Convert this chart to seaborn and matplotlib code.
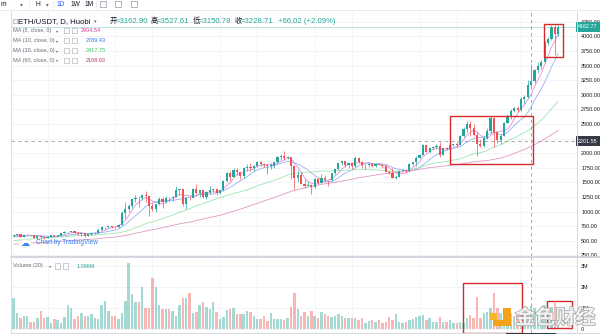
import numpy as np
import pandas as pd
import matplotlib
matplotlib.use("Agg")
import matplotlib.pyplot as plt
import matplotlib.patheffects as pe
from matplotlib.patches import Rectangle, Circle
from matplotlib.lines import Line2D
import seaborn as sns

# ---------------- data: ETH/USDT daily candles ----------------
opens = [587, 598, 616, 570, 596, 601, 592, 555, 573, 560,
         545, 568, 590, 586, 589, 636, 642, 654, 658, 638,
         609, 634, 584, 611, 626, 635, 683, 731, 735, 751,
         737, 730, 775, 979, 1041, 1100, 1208, 1225, 1224, 1281,
         1262, 1090, 1043, 1130, 1218, 1171, 1233, 1230, 1257, 1377,
         1382, 1121, 1236, 1230, 1391, 1324, 1362, 1245, 1331, 1377,
         1382, 1314, 1369, 1515, 1660, 1594, 1719, 1677, 1614, 1746,
         1768, 1744, 1783, 1843, 1814, 1805, 1779, 1781, 1848, 1937,
         1960, 1919, 1935, 1781, 1570, 1626, 1475, 1446, 1459, 1416,
         1564, 1492, 1575, 1541, 1533, 1654, 1723, 1834, 1868, 1799,
         1826, 1772, 1924, 1854, 1791, 1806, 1823, 1782, 1819, 1806,
         1782, 1681, 1669, 1583, 1588, 1702, 1716, 1691, 1819, 1846,
         1919, 1977, 2143, 2028, 2093, 2107, 2118, 1971, 2088, 2072,
         2136, 2158, 2139, 2290, 2420, 2500, 2430, 2320, 2150, 2130,
         2260, 2380, 2600, 2360, 2220, 2300, 2520, 2640, 2720, 2780,
         2740, 2930, 2960, 3162.90, 3228.71, 3420, 3500, 3560, 3890, 3960,
         4170, 4040]
highs = [600, 622, 619, 598, 604, 606, 594, 577, 574, 561,
         573, 597, 592, 594, 640, 675, 657, 665, 668, 646,
         637, 637, 614, 627, 642, 717, 745, 738, 754, 754,
         749, 786, 1011, 1158, 1132, 1210, 1279, 1260, 1300, 1348,
         1264, 1150, 1135, 1245, 1245, 1260, 1255, 1260, 1440, 1390,
         1392, 1250, 1270, 1400, 1465, 1370, 1370, 1345, 1430, 1390,
         1385, 1375, 1540, 1670, 1690, 1740, 1750, 1680, 1765, 1815,
         1830, 1790, 1870, 1870, 1830, 1810, 1830, 1860, 1950, 1980,
         2042, 1960, 1940, 1790, 1710, 1675, 1560, 1530, 1470, 1570,
         1600, 1650, 1620, 1545, 1665, 1735, 1840, 1870, 1870, 1840,
         1845, 1945, 1930, 1870, 1820, 1830, 1840, 1830, 1830, 1815,
         1810, 1720, 1740, 1630, 1710, 1730, 1730, 1840, 1850, 1945,
         1990, 2150, 2145, 2100, 2120, 2150, 2200, 2095, 2100, 2190,
         2165, 2200, 2310, 2450, 2545, 2550, 2500, 2360, 2250, 2300,
         2440, 2645, 2620, 2380, 2330, 2540, 2670, 2760, 2800, 2810,
         2960, 2990, 3250, 3527.61, 3450, 3560, 3600, 3920, 3990, 4190,
         4200, 4190]
lows = [570, 585, 565, 562, 585, 585, 550, 531, 553, 536,
        543, 567, 578, 580, 585, 628, 630, 645, 630, 600,
        588, 567, 575, 604, 615, 630, 680, 693, 718, 715,
        714, 715, 768, 897, 995, 1067, 1166, 1070, 1200, 1168,
        926, 1010, 1000, 1110, 1060, 1150, 1170, 1180, 1245, 1275,
        1090, 1050, 1200, 1228, 1300, 1250, 1225, 1215, 1300, 1340,
        1280, 1295, 1350, 1500, 1530, 1590, 1625, 1550, 1570, 1700,
        1700, 1700, 1765, 1780, 1770, 1650, 1730, 1750, 1840, 1890,
        1880, 1900, 1560, 1370, 1510, 1470, 1400, 1430, 1295, 1410,
        1475, 1485, 1500, 1440, 1525, 1645, 1705, 1795, 1760, 1750,
        1730, 1755, 1840, 1740, 1730, 1760, 1760, 1760, 1790, 1740,
        1675, 1650, 1570, 1550, 1585, 1690, 1680, 1685, 1795, 1775,
        1910, 1970, 2020, 2000, 2050, 2080, 1940, 1965, 2055, 2060,
        2115, 2110, 2135, 2280, 2370, 2300, 2300, 1950, 2100, 2100,
        2240, 2350, 2110, 2180, 2160, 2290, 2510, 2580, 2700, 2700,
        2730, 2850, 2940, 3150.78, 3200, 3380, 3440, 3540, 3860, 3940,
        3690, 4010]
closes = [598, 616, 570, 596, 601, 592, 555, 573, 560, 545,
          568, 590, 586, 589, 636, 642, 654, 658, 638, 609,
          634, 584, 611, 626, 635, 683, 731, 735, 751, 737,
          730, 775, 979, 1041, 1100, 1208, 1225, 1224, 1281, 1262,
          1090, 1043, 1130, 1218, 1171, 1233, 1230, 1257, 1377, 1382,
          1121, 1236, 1230, 1391, 1324, 1362, 1245, 1331, 1377, 1382,
          1314, 1369, 1515, 1660, 1594, 1719, 1677, 1614, 1746, 1768,
          1744, 1783, 1843, 1814, 1805, 1779, 1781, 1848, 1937, 1960,
          1919, 1935, 1781, 1570, 1626, 1475, 1446, 1459, 1416, 1564,
          1492, 1575, 1541, 1533, 1654, 1723, 1834, 1868, 1799, 1826,
          1772, 1924, 1854, 1791, 1806, 1823, 1782, 1819, 1806, 1782,
          1681, 1669, 1583, 1588, 1702, 1716, 1691, 1819, 1846, 1919,
          1977, 2143, 2028, 2093, 2107, 2118, 1971, 2088, 2072, 2136,
          2158, 2139, 2290, 2420, 2500, 2430, 2320, 2150, 2130, 2260,
          2380, 2600, 2360, 2220, 2300, 2520, 2640, 2720, 2780, 2740,
          2930, 2960, 3162.69, 3228.71, 3420, 3500, 3560, 3890, 3960, 4170,
          4040, 4162.77]
# daily volume, millions
volumes_m = [1.49, 0.78, 0.54, 0.62, 0.62, 0.35, 0.35, 0.54, 0.86, 0.54,
             0.57, 0.30, 0.48, 0.41, 0.30, 0.59, 1.14, 0.98, 0.46, 0.62,
             0.78, 0.62, 0.62, 0.70, 0.54, 0.46, 1.14, 1.33, 0.86, 0.62,
             0.62, 0.48, 0.75, 1.33, 3.16, 1.67, 1.30, 1.30, 2.00, 0.98,
             0.98, 2.43, 2.00, 1.14, 0.95, 0.95, 0.95, 0.87, 0.62, 1.14,
             1.49, 1.49,
             1.70, 0.75, 0.79, 1.14, 1.27, 1.06, 0.95, 1.27, 0.79, 0.48,
             0.59, 0.90, 0.95, 0.98, 0.70, 0.70, 0.70, 0.86, 0.79, 0.63,
             0.46, 0.48, 0.63, 0.40, 0.75, 0.48, 0.48, 0.48, 0.43, 0.54,
             1.03, 1.73,
             0.95, 0.62, 0.83, 0.62, 0.87, 0.62, 0.54, 0.79, 0.70, 0.63,
             0.59, 0.63, 0.70, 0.63, 0.54, 0.52, 0.52, 0.52, 0.43, 0.52,
             0.30, 0.40,
             0.43, 0.35, 0.43, 0.30, 0.35, 0.59, 0.43, 0.71, 0.35, 0.30,
             0.35, 0.43, 0.48, 0.56, 0.62, 0.67, 0.43, 0.51, 0.35, 0.35,
             0.56, 0.35, 0.35, 0.43, 0.30, 0.30, 0.35, 0.30, 0.51, 0.67,
             0.54, 1.54, 0.51, 0.75, 0.83, 0.98, 1.73, 0.98, 0.75, 0.70,
             0.70, 0.75, 0.60, 0.75, 0.75, 0.83, 0.90, 1.096,
             0.98, 0.88, 0.80, 1.12, 0.95, 1.05, 1.25, 0.62]
# closes of the days before the first candle, only used to seed the moving averages
earlier_closes = [352, 353, 341, 341, 350, 365, 370, 375, 387, 381,
                  379, 377, 366, 368, 377, 379, 369, 392, 413, 409,
                  412, 406, 393, 404, 388, 386, 382, 386, 396, 383,
                  388, 402, 415, 454, 435, 453, 444, 450, 463, 462,
                  475, 461, 448, 460, 482, 479, 471, 509, 549, 559,
                  608, 603, 568, 518, 517, 538, 575, 614, 587]

price_ticks = [250, 500, 750, 1000, 1250, 1500, 1750, 2000, 2250, 2500,
               2750, 3000, 3250, 3500, 3750, 4000, 4250]
volume_ticks = [0, 1, 2, 3]
volume_tick_labels = ["0", "1M", "2M", "3M"]
ma_periods = [5, 10, 30, 60]
ma_labels = ["MA (5, close, 0)", "MA (10, close, 0)", "MA (30, close, 0)", "MA (60, close, 0)"]
ma_values = ["2904.54", "2789.43", "2417.75", "2108.93"]
cross_index = 153
cross_price = 2201.55
last_price = 4162.77
ohlc_names = ["开", "高", "低", "收"]
ohlc_values = ["=3162.90", "=3527.61", "=3150.78", "=3228.71"]
change_text = "+66.02 (+2.09%)"
volume_value = "1.096M"
timeframes = ["1D", "1W", "1M"]

# ---------------- style ----------------
UP, DOWN = "#26a69a", "#ef5350"
MA_COLORS = ["#e0389c", "#2f6ff0", "#3cc462", "#c2306e"]
MA_LINE_COLORS = ["#e27ad2", "#7fa6f2", "#8fe0a2", "#d987b9"]
TEXT = "#131722"
MUTED = "#6a6d78"
BORDER = "#d6d9e0"
GRID = "#f1f3f7"

W, H = 600, 334
sns.set_theme(style="white")
plt.rcParams["font.family"] = ["Liberation Sans", "DejaVu Sans", "Noto Sans CJK SC"]
plt.rcParams["axes.unicode_minus"] = False

fig = plt.figure(figsize=(W / 100, H / 100), dpi=100)
fig.patch.set_facecolor("white")


def fx(px):
    return px / W


def fy(py):
    return 1 - py / H


def hline(x0, x1, y, color=BORDER, lw=0.6, **kw):
    fig.add_artist(Line2D([fx(x0), fx(x1)], [fy(y), fy(y)], color=color, lw=lw, **kw))


def vline(x, y0, y1, color=BORDER, lw=0.6, **kw):
    fig.add_artist(Line2D([fx(x), fx(x)], [fy(y0), fy(y1)], color=color, lw=lw, **kw))


def box(x, y, w, h, ec="#a3a6af", fc="white", lw=0.4, z=5):
    fig.add_artist(Rectangle((fx(x), fy(y + h)), w / W, h / H, transform=fig.transFigure,
                             fc=fc, ec=ec, lw=lw, zorder=z))


# pane geometry (pixels)
PANE_L, PANE_R = 10.5, 577.0
MAIN_T, MAIN_B = 10.5, 256.0
VOL_T, VOL_B = 258.0, 332.5
X0, SLOT = 13.7, 3.382          # first candle centre, candle spacing
PY0, PSCALE = 255.3, 0.05835    # pixel row of 250.00, pixels per price unit
VZERO, VSCALE = 329.0, 21.0     # pixel row of zero volume, pixels per million

ax = fig.add_axes([fx(PANE_L), fy(MAIN_B), (PANE_R - PANE_L) / W, (MAIN_B - MAIN_T) / H])
axv = fig.add_axes([fx(PANE_L), fy(VOL_B), (PANE_R - PANE_L) / W, (VOL_B - VOL_T) / H])

xlim = ((PANE_L - X0) / SLOT, (PANE_R - X0) / SLOT)
ax.set_xlim(*xlim)
axv.set_xlim(*xlim)
ax.set_ylim(250 + (PY0 - MAIN_B) / PSCALE, 250 + (PY0 - MAIN_T) / PSCALE)
axv.set_ylim((VZERO - VOL_B) / VSCALE, (VZERO - VOL_T) / VSCALE)

idx = np.arange(len(closes))
o = np.array(opens, float)
h = np.array(highs, float)
l = np.array(lows, float)
c = np.array(closes, float)
up = c >= o
colors = np.where(up, UP, DOWN)

# grid
grid_idx = [10, 30, 41, 61, 72, 89, 100, 120, 131, 150]
for a in (ax, axv):
    for s in a.spines.values():
        s.set_visible(False)
    a.set_xticks(grid_idx)
    a.tick_params(axis="x", length=0, labelbottom=False)
    a.grid(True, color=GRID, linewidth=0.6)
    a.set_axisbelow(True)
    a.set_facecolor("white")

ax.set_yticks(price_ticks)
ax.set_yticklabels(["" if abs(t - cross_price) < 100 else f"{t:.2f}" for t in price_ticks])
axv.set_yticks(volume_ticks)
axv.set_yticklabels(volume_tick_labels)
for a in (ax, axv):
    a.yaxis.tick_right()
    a.tick_params(axis="y", length=0, pad=3, labelsize=3.9, labelcolor=TEXT)

# moving averages
all_close = pd.Series(earlier_closes + closes, dtype=float)
for period, col in zip(ma_periods, MA_LINE_COLORS):
    ma = all_close.rolling(period).mean().iloc[len(earlier_closes):].to_numpy()
    sns.lineplot(x=idx, y=ma, ax=ax, color=col, linewidth=0.6, alpha=0.85,
                 legend=False, zorder=2)

# candles
ax.vlines(idx, l, h, colors=colors, linewidth=0.5, zorder=3)
ax.bar(idx, np.maximum(np.abs(c - o), 10), bottom=np.minimum(o, c), width=0.64,
       color=colors, linewidth=0, zorder=4)

# volume
axv.bar(idx, volumes_m, width=0.72, color=colors, alpha=0.42, linewidth=0, zorder=2)

# last price line and crosshair
ax.axhline(last_price, color=UP, lw=0.5, alpha=0.45, zorder=1)
dash = (0, (4, 4))
cross_x = X0 + cross_index * SLOT
ax.axhline(cross_price, color="#9598a1", lw=0.6, ls=dash, zorder=5)
ax.axvline(cross_index, color="#9598a1", lw=0.6, ls=dash, zorder=5)
axv.axvline(cross_index, color="#9598a1", lw=0.6, ls=dash, zorder=5)
vline(cross_x, MAIN_B, VOL_T, color="#9598a1", lw=0.6, ls=dash)
# crosshair date tag on the (cropped) time scale
box(cross_x - 25, 332.8, 50, 3, ec="none", fc="#363a45", z=6)

lab_x = 1 + 1.2 / (PANE_R - PANE_L)
ax.text(lab_x, last_price, f"{last_price:.2f}", transform=ax.get_yaxis_transform(),
        ha="left", va="center", fontsize=3.9, color="white", clip_on=False, zorder=10,
        bbox=dict(boxstyle="square,pad=0.45", fc=UP, ec="none"))
ax.text(lab_x, cross_price, f"{cross_price:.2f}", transform=ax.get_yaxis_transform(),
        ha="left", va="center", fontsize=3.9, color="white", clip_on=False, zorder=10,
        bbox=dict(boxstyle="square,pad=0.45", fc="#363a45", ec="none"))

# highlight boxes
RED = "#d42a2a"
ax.add_patch(Rectangle((129.0, 1815), 24.55, 822, fill=False, ec=RED, lw=1.0,
                       clip_on=False, zorder=20))
ax.add_patch(Rectangle((156.9, 3643), 5.6, 571, fill=False, ec=RED, lw=1.0,
                       clip_on=False, zorder=20))
axv.add_patch(Rectangle((132.9, -0.17), 17.3, 2.38, fill=False, ec=RED, lw=1.0,
                        clip_on=False, zorder=20))
axv.add_patch(Rectangle((157.7, 0.05), 7.5, 1.285, fill=False, ec=RED, lw=1.0,
                        clip_on=False, zorder=20))

# frame lines
vline(PANE_R, MAIN_T, H, color=BORDER, lw=0.7)
vline(PANE_L, MAIN_T, H, color=BORDER, lw=0.6)
hline(PANE_L, W, 257.0, color="#cfd2d9", lw=1.3)
hline(PANE_L, W, 332.8, color=BORDER, lw=0.7)
hline(0, W, 10.2, color="#e6e8ee", lw=0.6)

# top toolbar
tb = dict(fontsize=4.8, va="center", color=TEXT)
fig.text(fx(1), fy(4.5), "m", **tb)
fig.text(fx(20), fy(4.5), "▾", fontsize=4, va="center", color=MUTED, family="DejaVu Sans")
fig.text(fx(35), fy(4.5), "H", **tb)
fig.text(fx(46), fy(4.5), "▾", fontsize=4, va="center", color=MUTED, family="DejaVu Sans")
for name, x in zip(timeframes, [56.5, 70.5, 84.5]):
    fig.text(fx(x), fy(4.5), name, fontsize=4.8, va="center",
             color="#2962ff" if name == "1D" else TEXT)
for x in [29, 53, 96]:
    vline(x, 0.5, 8.5, color="#e6e8ee", lw=0.5)
for x in [99.5, 115, 130.5]:
    box(x, 1.2, 6.2, 6.2, ec="#8a8d96", lw=0.45)

# header
box(12.8, 18.8, 4.2, 4.2, ec="#8a8d96", lw=0.4)
fig.text(fx(18.5), fy(21.3), "ETH/USDT, D, Huobi", fontsize=5.6, va="center", color=TEXT)
fig.text(fx(94), fy(21.3), "▾", fontsize=3.6, va="center", color=MUTED, family="DejaVu Sans")
for name, val, xn, xv in zip(ohlc_names, ohlc_values, [110, 151, 192.5, 234.5],
                             [115.8, 157, 198.5, 240.5]):
    fig.text(fx(xn), fy(21.3), name, fontsize=5.2, va="center", color=TEXT,
             family=["Noto Sans CJK SC"])
    fig.text(fx(xv), fy(21.3), val, fontsize=5.6, va="center", color=UP)
fig.text(fx(278), fy(21.3), change_text, fontsize=5.6, va="center", color=UP)

# indicator legends
for i, (lab, val, col) in enumerate(zip(ma_labels, ma_values, MA_COLORS)):
    y = [30.7, 40.7, 50.7, 60.4][i]
    fig.text(fx(12.7), fy(y), lab, fontsize=4.0, va="center", color=MUTED)
    fig.text(fx(56), fy(y), "▾", fontsize=3.2, va="center", color=MUTED, family="DejaVu Sans")
    box(63.8, y - 2.6, 5.2, 5.2, ec="#a3a6af", lw=0.4)
    box(71.5, y - 2.6, 5.2, 5.2, ec="#a3a6af", lw=0.4)
    fig.text(fx(74.1), fy(y), "×", fontsize=3.6, ha="center", va="center", color="#a3a6af")
    fig.text(fx(81 if i == 0 else 85.6), fy(y), val, fontsize=4.0, va="center", color=col)

fig.text(fx(12.7), fy(266), "Volume (20)", fontsize=4.0, va="center", color=MUTED)
fig.text(fx(48.5), fy(266), "▾", fontsize=3.2, va="center", color=MUTED, family="DejaVu Sans")
box(55.2, 263.4, 5.2, 5.2, ec="#a3a6af", lw=0.4)
box(63.0, 263.4, 5.2, 5.2, ec="#a3a6af", lw=0.4)
fig.text(fx(65.6), fy(266), "×", fontsize=3.6, ha="center", va="center", color="#a3a6af")
fig.text(fx(77), fy(266), volume_value, fontsize=4.0, va="center", color=UP)

# TradingView badge
fig.add_artist(Circle((fx(25), fy(243.5)), 6.8 / W, transform=fig.transFigure,
                      fc="white", ec="#e3e5ea", lw=0.5, zorder=8))
fig.text(fx(25), fy(243.8), "☁", fontsize=6.5, ha="center", va="center",
         color="#3b82f0", family="DejaVu Sans", zorder=9)
fig.text(fx(36.5), fy(242.5), "Chart by TradingView", fontsize=4.7, va="center",
         color="#3b7ff0", zorder=9)

# watermark
ORANGE = "#f4a21c"
for x, y, w_, h_, col in [(490, 313, 7, 7, "#f7b52a"), (503, 308, 7.5, 17, ORANGE),
                          (493, 320, 17.5, 5.5, ORANGE)]:
    box(x, y, w_, h_, ec="none", fc=col, z=30)
fig.text(fx(515), fy(317.5), "金色财经", fontsize=14.5, va="center", ha="left",
         color="#f2f2f2", family=["Noto Sans CJK SC"], weight="bold", zorder=30,
         path_effects=[pe.withStroke(linewidth=1.0, foreground="#a0a0a0")])

fig.savefig("out.png", dpi=100, facecolor="white")
